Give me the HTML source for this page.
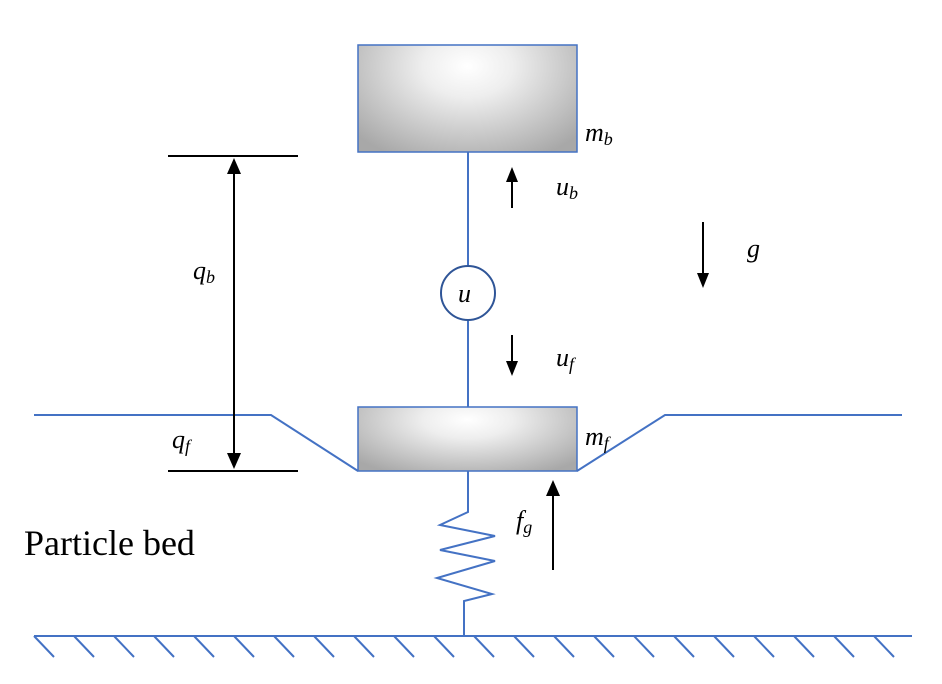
<!DOCTYPE html>
<html><head><meta charset="utf-8"><style>body{margin:0;background:#fff}svg{display:block}</style></head>
<body>
<svg width="942" height="684" viewBox="0 0 942 684" xmlns="http://www.w3.org/2000/svg">
<defs>
<radialGradient id="g" cx="0.5" cy="0.2" r="0.8" fx="0.5" fy="0.2" gradientTransform="translate(0.5 0.2) scale(0.85 1.2) translate(-0.5 -0.2)">
<stop offset="0" stop-color="#ffffff"/><stop offset="0.3" stop-color="#eeeeee"/><stop offset="1" stop-color="#a8a8a8"/>
</radialGradient>
</defs>
<g stroke="#4472c4" stroke-width="2" fill="none">
<line x1="468" y1="152" x2="468" y2="266"/>
<line x1="468" y1="320" x2="468" y2="407"/>
<circle cx="468" cy="293" r="27" stroke="#2f5597"/>
<polyline points="34,415 271,415 358,471"/>
<polyline points="577,471 665,415 902,415"/>
<polyline points="468,471 468,512 440,525 495,536 440,550 495,561 437,578 492,594 464,601 464,636"/>
<line x1="34" y1="636" x2="912" y2="636"/>
</g>
<g stroke="#4472c4" stroke-width="2">
<path d="M34 636l20 21M74 636l20 21M114 636l20 21M154 636l20 21M194 636l20 21M234 636l20 21M274 636l20 21M314 636l20 21M354 636l20 21M394 636l20 21M434 636l20 21M474 636l20 21M514 636l20 21M554 636l20 21M594 636l20 21M634 636l20 21M674 636l20 21M714 636l20 21M754 636l20 21M794 636l20 21M834 636l20 21M874 636l20 21"/>
</g>
<rect x="358" y="45" width="219" height="107" fill="url(#g)" stroke="#4472c4" stroke-width="1.5"/>
<rect x="358" y="407" width="219" height="64" fill="url(#g)" stroke="#4472c4" stroke-width="1.5"/>
<g stroke="#000" stroke-width="2">
<line x1="168" y1="156" x2="298" y2="156"/>
<line x1="168" y1="471" x2="298" y2="471"/>
<line x1="234" y1="170" x2="234" y2="457"/>
<line x1="512" y1="208" x2="512" y2="180"/>
<line x1="512" y1="335" x2="512" y2="364"/>
<line x1="703" y1="222" x2="703" y2="276"/>
<line x1="553" y1="570" x2="553" y2="493"/>
</g>
<g fill="#000">
<polygon points="234,158 227,174 241,174"/>
<polygon points="234,469 227,453 241,453"/>
<polygon points="512,167 506,182 518,182"/>
<polygon points="512,376 506,361 518,361"/>
<polygon points="703,288 697,273 709,273"/>
<polygon points="553,480 546,496 560,496"/>
</g>
<g font-family="Liberation Serif, serif" font-style="italic" font-size="26" fill="#000">
<text x="585" y="141">m<tspan font-size="18" dy="4">b</tspan></text>
<text x="556" y="195">u<tspan font-size="18" dy="4">b</tspan></text>
<text x="747" y="257">g</text>
<text x="458" y="302">u</text>
<text x="556" y="366">u<tspan font-size="18" dy="4">f</tspan></text>
<text x="193" y="279">q<tspan font-size="18" dy="4">b</tspan></text>
<text x="172" y="448">q<tspan font-size="18" dy="4">f</tspan></text>
<text x="585" y="445">m<tspan font-size="18" dy="4">f</tspan></text>
<text x="516" y="529">f<tspan font-size="18" dy="4">g</tspan></text>
</g>
<text x="24" y="555" font-family="Liberation Serif, serif" font-size="36" fill="#000">Particle bed</text>
</svg>
</body></html>
